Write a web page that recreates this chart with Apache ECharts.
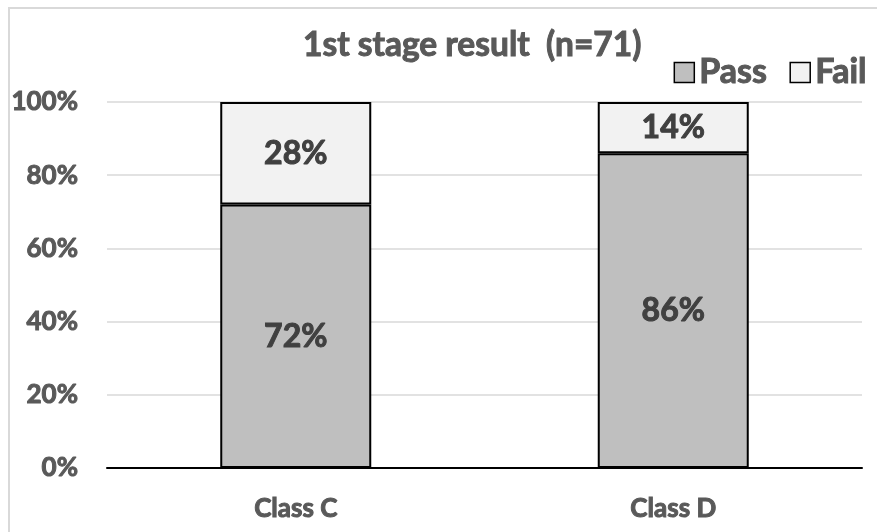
<!DOCTYPE html>
<html>
<head>
<meta charset="utf-8">
<script src="https://cdn.jsdelivr.net/npm/echarts@6/dist/echarts.min.js"></script>
<style>
  html, body { margin: 0; padding: 0; background: #fff; }
  #frame { position: absolute; left: 8px; top: 7px; width: 900px; height: 560px;
           border-top: 2px solid #d9d9d9; border-left: 2px solid #d9d9d9; }
  #chart { position: absolute; left: 0; top: 0; width: 877px; height: 532px; }
</style>
</head>
<body>
<div id="frame"></div>
<div id="chart"></div>
<script>
// Share of students per class in the first stage
const categories = ['Class C', 'Class D'];
const passValues = [72, 86];
const failValues = [28, 14];
const yTicks = [0, 20, 40, 60, 80, 100];

const FONT = 'Lato';
const WEIGHT = 'bold';
const GREY = '#595959';
const DARK = '#404040';

// A thin outline in the text colour gives the heavier stroke of the labels
function heavy(color, size, extra) {
  return Object.assign({
    fontFamily: FONT, fontWeight: WEIGHT, fontSize: size, color: color,
    textBorderColor: color, textBorderWidth: 1
  }, extra || {});
}

const chart = echarts.init(document.getElementById('chart'), null, { renderer: 'canvas' });

const labelStyle = Object.assign({
  show: true,
  position: 'inside',
  formatter: p => p.value + '%'
}, heavy(DARK, 32));

chart.setOption({
  animation: false,
  title: {
    text: '1st stage result  (n=71)',
    left: 298,
    top: 23,
    textStyle: heavy(GREY, 33.5)
  },
  legend: {
    right: 5,
    top: 50,
    icon: 'rect',
    itemWidth: 20,
    itemHeight: 20,
    itemGap: 22,
    itemStyle: { borderColor: '#000', borderWidth: 1.5 },
    textStyle: heavy(GREY, 34),
    data: ['Pass', 'Fail']
  },
  grid: { left: 107, right: 15, top: 102, bottom: 64 },
  xAxis: {
    type: 'category',
    data: categories,
    axisLine: { lineStyle: { color: '#000', width: 2 } },
    axisTick: { show: false },
    axisLabel: heavy(GREY, 26, { margin: 28 })
  },
  yAxis: {
    type: 'value',
    min: yTicks[0],
    max: yTicks[yTicks.length - 1],
    interval: yTicks[1] - yTicks[0],
    axisLine: { show: false },
    axisTick: { show: false },
    splitLine: { lineStyle: { color: '#d9d9d9', width: 1.5 } },
    axisLabel: heavy(GREY, 26, { formatter: v => v + '%', margin: 29 })
  },
  series: [
    {
      name: 'Pass',
      type: 'bar',
      stack: 'total',
      barWidth: '40%',
      data: passValues,
      itemStyle: { color: '#bfbfbf', borderColor: '#000', borderWidth: 2 },
      label: labelStyle
    },
    {
      name: 'Fail',
      type: 'bar',
      stack: 'total',
      barWidth: '40%',
      data: failValues,
      itemStyle: { color: '#f2f2f2', borderColor: '#000', borderWidth: 2 },
      label: labelStyle
    }
  ]
});
</script>
</body>
</html>
